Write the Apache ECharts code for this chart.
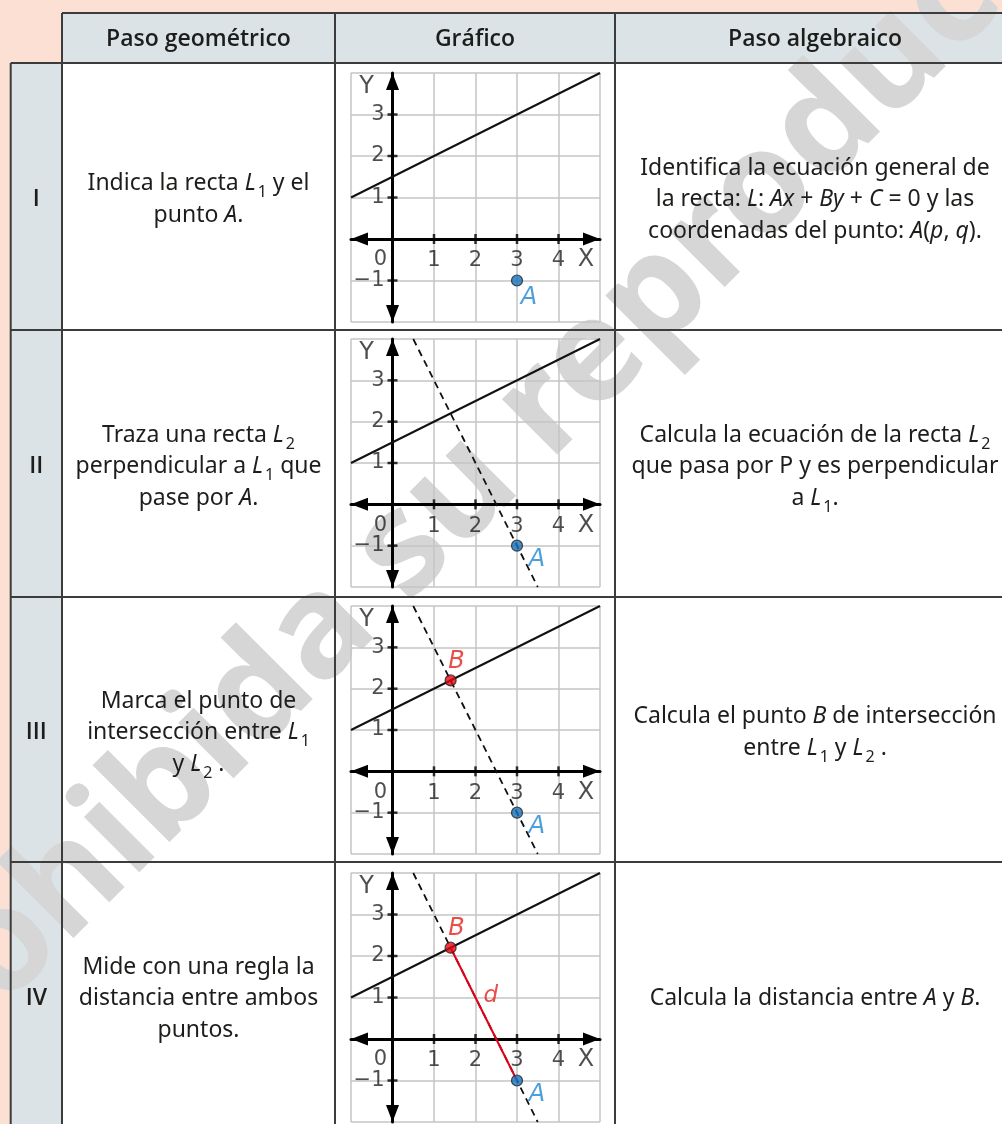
<!DOCTYPE html>
<html><head><meta charset="utf-8">
<script src="https://cdn.jsdelivr.net/npm/echarts@6/dist/echarts.min.js"></script>
<style>html,body{margin:0;padding:0;background:#fde0d4}#c{width:1002px;height:1124px}</style>
</head><body><div id="c"></div>
<script>
// ---------------- data ----------------
const headers = ['Paso geométrico', 'Gráfico', 'Paso algebraico'];
const rowLabels = ['I', 'II', 'III', 'IV'];
const geoSteps = [
  ['Indica la recta *L*_1_ y el', 'punto *A*.'],
  ['Traza una recta *L*_2_', 'perpendicular a *L*_1_ que', 'pase por *A*.'],
  ['Marca el punto de', 'intersección entre *L*_1_', 'y *L*_2_ .'],
  ['Mide con una regla la', 'distancia entre ambos', 'puntos.']
];
const algSteps = [
  ['Identifica la ecuación general de', 'la recta: *L*: *Ax* + *By* + *C* = 0 y las', 'coordenadas del punto: *A*(*p*, *q*).'],
  ['Calcula la ecuación de la recta *L*_2_', 'que pasa por P y es perpendicular', 'a *L*_1_.'],
  ['Calcula el punto *B* de intersección', 'entre *L*_1_ y *L*_2_ .'],
  ['Calcula la distancia entre *A* y *B*.']
];
const xRange = [-1, 5];
const yRange = [-2, 4];
const xTicks = [1, 2, 3, 4];
const yTicks = [3, 2, 1, -1];
const originLabel = '0';
const axisNames = ['X', 'Y'];
const lineL1 = [[-1, 1], [5, 4]];
const lineL2 = [[0.5, 4], [3.5, -2]];
const pointA = [3, -1];
const pointB = [1.4, 2.2];
const pointNames = ['A', 'B'];
const distanceName = 'd';
const graphParts = [
  ['L1', 'A'],
  ['L1', 'L2', 'A'],
  ['L1', 'L2', 'B', 'A'],
  ['L1', 'L2', 'AB', 'B', 'A']
];
const watermark = 'Prohibida su reproducción';

// ---------------- layout / style ----------------
const PEACH = '#fde0d4', HEAD_FILL = '#dbe3e7', BORDER = '#3c3c3c', TXT = '#1d1d1b';
const FONT = 'Noto Sans', GFONT = 'DejaVu Sans';
const colX = [10.7, 62, 335, 615, 1015];
const rowsY = [63, 330, 597, 862, 1129];
const headTop = 13;
const gridTops = [73, 339, 606, 873], gridH = [249, 248, 248, 249];
const gridLeft = 351, gridW = 249;

function toRich(s) {
  let out = '';
  const re = /\*([^*]+)\*|_([^_]+)_|([^*_]+)/g;
  let m;
  while ((m = re.exec(s))) {
    if (m[1] != null) out += '{i|' + m[1] + '}';
    else if (m[2] != null) out += '{s|' + m[2] + '}';
    else out += '{n|' + m[3] + '}';
  }
  return out;
}
const rich = {
  n: {fontFamily: FONT, fontSize: 23, fill: TXT, lineHeight: 32, align: 'center'},
  i: {fontFamily: FONT, fontSize: 23, fontStyle: 'italic', fill: TXT, lineHeight: 32, align: 'center'},
  s: {fontFamily: FONT, fontSize: 16, fill: TXT, padding: [18, 0, 0, 2], align: 'center'}
};

const els = [];
// fills
els.push({type: 'rect', z: 0, silent: true, shape: {x: colX[1], y: headTop, width: colX[4] - colX[1], height: rowsY[0] - headTop}, style: {fill: HEAD_FILL}});
els.push({type: 'rect', z: 0, silent: true, shape: {x: colX[0], y: rowsY[0], width: colX[1] - colX[0], height: rowsY[4] - rowsY[0]}, style: {fill: HEAD_FILL}});
els.push({type: 'rect', z: 0, silent: true, shape: {x: colX[1], y: rowsY[0], width: colX[4] - colX[1], height: rowsY[4] - rowsY[0]}, style: {fill: '#ffffff'}});
// watermark
els.push({type: 'text', z: 1, silent: true, x: 528, y: 426, rotation: Math.PI / 4,
  style: {text: watermark, fontFamily: FONT, fontSize: 143, fontWeight: 'bold', fill: '#d6d6d6', align: 'center', verticalAlign: 'middle'}});
// borders
function seg(x1, y1, x2, y2) {
  els.push({type: 'line', z: 3, silent: true, shape: {x1, y1, x2, y2}, style: {stroke: BORDER, lineWidth: 2}});
}
seg(colX[1], headTop, colX[4], headTop);
rowsY.forEach(y => seg(colX[0], y, colX[4], y));
seg(colX[0], rowsY[0], colX[0], rowsY[4]);
[1, 2, 3, 4].forEach(i => seg(colX[i], headTop, colX[i], rowsY[4]));
// header texts
headers.forEach((h, i) => {
  els.push({type: 'text', z: 3, silent: true, x: (colX[i + 1] + colX[i + 2]) / 2, y: 39,
    style: {text: h, fontFamily: 'Open Sans', fontSize: 23, fontWeight: 600, fill: TXT, align: 'center', verticalAlign: 'middle'}});
});
// rows
function addLines(lines, cx, cy) {
  const n = lines.length, lh = 31.5;
  lines.forEach((ln, k) => {
    els.push({type: 'text', z: 3, silent: true, x: cx, y: cy + (k - (n - 1) / 2) * lh,
      style: {text: toRich(ln), rich: rich, align: 'center', verticalAlign: 'middle', fontFamily: FONT, fontSize: 23, fill: TXT}});
  });
}
rowLabels.forEach((r, i) => {
  const cy = (rowsY[i] + rowsY[i + 1]) / 2 + 3;
  els.push({type: 'text', z: 3, silent: true, x: 36.3, y: cy,
    style: {text: r, fontFamily: 'Open Sans', fontSize: 23, fontWeight: 600, fill: TXT, align: 'center', verticalAlign: 'middle'}});
  addLines(geoSteps[i], (colX[1] + colX[2]) / 2, cy);
  addLines(algSteps[i], (colX[3] + colX[4]) / 2, cy);
});

// ---------------- graphs ----------------
function splitColors(range) {
  const c = [];
  for (let v = range[0]; v <= range[1]; v++) c.push(v === 0 ? 'rgba(0,0,0,0)' : '#c4c4c4');
  return c;
}
const fmt = v => (v < 0 ? '\u2212' + (-v) : String(v));
const DIG = {fontFamily: GFONT, fontSize: 21, color: '#231f20', textBorderWidth: 0};
const axisLineCfg = {show: true, onZero: true, lineStyle: {color: '#000', width: 3},
  symbol: ['triangle', 'triangle'], symbolSize: [13, 17], symbolOffset: [8.5, -8.5]};

const grids = [], xAxes = [], yAxes = [], series = [];
for (let g = 0; g < 4; g++) {
  grids.push({left: gridLeft, top: gridTops[g], width: gridW, height: gridH[g]});
  xAxes.push({type: 'value', gridIndex: g, min: xRange[0], max: xRange[1], interval: 1, z: 2,
    axisLine: axisLineCfg, axisTick: {show: false}, axisLabel: {show: false},
    splitLine: {show: true, lineStyle: {color: splitColors(xRange), width: 1.5}}});
  yAxes.push({type: 'value', gridIndex: g, min: yRange[0], max: yRange[1], interval: 1, z: 2,
    axisLine: axisLineCfg, axisTick: {show: false}, axisLabel: {show: false},
    splitLine: {show: true, lineStyle: {color: splitColors(yRange), width: 1.5}}});
  const ax = {xAxisIndex: g, yAxisIndex: g, silent: true, animation: false};
  const parts = graphParts[g];
  series.push({...ax, type: 'line', z: 4, showSymbol: false, data: lineL1, lineStyle: {color: '#111', width: 2}});
  if (parts.includes('L2')) {
    series.push({...ax, type: 'line', z: 4, showSymbol: false, data: lineL2, lineStyle: {color: '#111', width: 1.8, type: [7, 5]}});
  }
  if (parts.includes('AB')) {
    series.push({...ax, type: 'line', z: 5, showSymbol: false, data: [pointB, pointA], lineStyle: {color: '#e1001a', width: 2}});
    const mid = [(pointA[0] + pointB[0]) / 2, (pointA[1] + pointB[1]) / 2];
    series.push({...ax, type: 'scatter', z: 6, symbolSize: 1, itemStyle: {color: 'rgba(0,0,0,0)'}, data: [mid],
      label: {show: true, position: 'inside', offset: [7, -18], formatter: distanceName,
        fontFamily: GFONT, fontStyle: 'italic', fontSize: 23, color: '#e2231a', textBorderWidth: 0}});
  }
  // ticks + tick labels
  series.push({...ax, type: 'scatter', z: 6, symbol: 'rect', symbolSize: [2.5, 10], itemStyle: {color: '#000'},
    data: xTicks.map(v => [v, 0]),
    label: {show: true, position: 'inside', offset: [0, 22], formatter: p => fmt(p.value[0]), ...DIG}});
  series.push({...ax, type: 'scatter', z: 6, symbol: 'rect', symbolSize: [10, 2.5], itemStyle: {color: '#000'},
    data: yTicks.map(v => [0, v]),
    label: {show: true, position: 'inside', align: 'right', offset: [-8, 0], formatter: p => fmt(p.value[1]), ...DIG}});
  series.push({...ax, type: 'scatter', z: 6, symbolSize: 1, itemStyle: {color: 'rgba(0,0,0,0)'},
    label: {show: true, position: 'inside', ...DIG},
    data: [
      {value: [0, 0], label: {formatter: originLabel, offset: [-12, 21]}},
      {value: [xRange[1], 0], label: {formatter: axisNames[0], offset: [-14, 21], fontSize: 24}},
      {value: [0, yRange[1]], label: {formatter: axisNames[1], offset: [-26, 14], fontSize: 24}}
    ]});
  if (parts.includes('B')) {
    series.push({...ax, type: 'scatter', z: 7, symbolSize: 11, data: [pointB],
      itemStyle: {color: '#e30613', borderColor: '#222', borderWidth: 1.2},
      label: {show: true, position: 'inside', offset: [6, -19], formatter: pointNames[1],
        fontFamily: GFONT, fontStyle: 'italic', fontSize: 24, color: '#e2231a', textBorderWidth: 0}});
  }
  series.push({...ax, type: 'scatter', z: 7, symbolSize: 11, data: [pointA],
    itemStyle: {color: '#1672bb', borderColor: '#222', borderWidth: 1.2},
    label: {show: true, position: 'inside', offset: g === 0 ? [12, 17] : [20, 14], formatter: pointNames[0],
      fontFamily: GFONT, fontStyle: 'italic', fontSize: 24, color: '#1f87cf', textBorderWidth: 0}});
}

const chart = echarts.init(document.getElementById('c'), null, {renderer: 'canvas'});
chart.setOption({
  animation: false,
  backgroundColor: PEACH,
  grid: grids, xAxis: xAxes, yAxis: yAxes, series: series,
  graphic: {elements: els}
});
</script></body></html>
